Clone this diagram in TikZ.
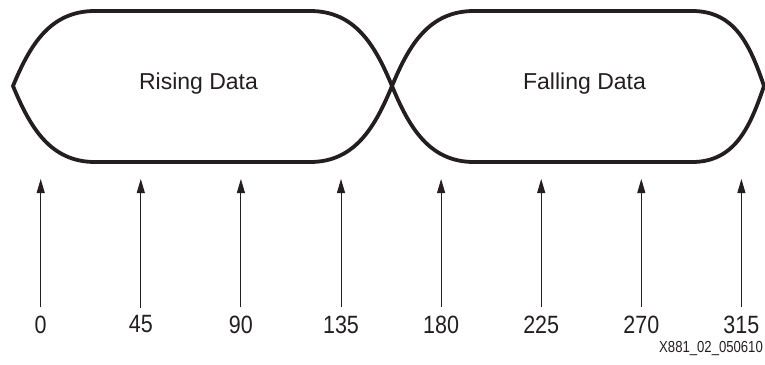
\documentclass[tikz,border=0pt]{standalone}
\usepackage{fontspec}
\setmainfont{Liberation Sans}
\usetikzlibrary{arrows.meta}

\definecolor{ink}{HTML}{231F20}

\tikzset{
  eye/.style={draw=ink, line width=3.8pt, line join=round},
  eyelabel/.style={text=ink, font=\fontsize{23}{26}\selectfont},
  num/.style={text=ink, inner sep=0pt, xscale=0.86, font=\fontsize{25}{28}\selectfont},
  phase/.style={draw=ink, line width=0.9pt, shorten <=8pt,
    -{Triangle[length=14pt, width=8pt]}},
}

\begin{document}
\begin{tikzpicture}[x=1pt, y=-1pt]
    \useasboundingbox (0, 0) rectangle (765, 364);

    % rising data eye
    \draw [eye] (13, 86)
            .. controls (30, 45) and (50, 11) .. (95, 11)
            -- (310, 11)
            .. controls (355, 11) and (375, 45) .. (392, 86)
            .. controls (375, 127) and (355, 162) .. (310, 162)
            -- (95, 162)
            .. controls (50, 162) and (30, 127) .. (13, 86) -- cycle;
    \node [eyelabel] (rising) at (198.5, 84) {Rising Data};

    % falling data eye
    \draw [eye] (392, 86)
            .. controls (409, 45) and (429, 11) .. (474, 11)
            -- (692, 11)
            .. controls (735, 11) and (750, 45) .. (764, 86)
            .. controls (750, 127) and (735, 162) .. (692, 162)
            -- (474, 162)
            .. controls (429, 162) and (409, 127) .. (392, 86) -- cycle;
    \node [eyelabel] (falling) at (584.5, 84) {Falling Data};

    % sampling phases
    \foreach \deg [count=\i from 0] in {0, 45, ..., 315} {
        \node [num] (n\i) at (40.7 + 100.1*\i, 324.5) {\deg};
        \coordinate (t\i) at (40.7 + 100.1*\i, 179);
        \draw [phase] (n\i.north) -- (t\i);
    }

    % figure id
    \node [text=ink, anchor=east, inner sep=0pt, xscale=0.82,
           font=\fontsize{16}{18}\selectfont] (figid) at (763, 348) {X881\_02\_050610};
\end{tikzpicture}
\end{document}
